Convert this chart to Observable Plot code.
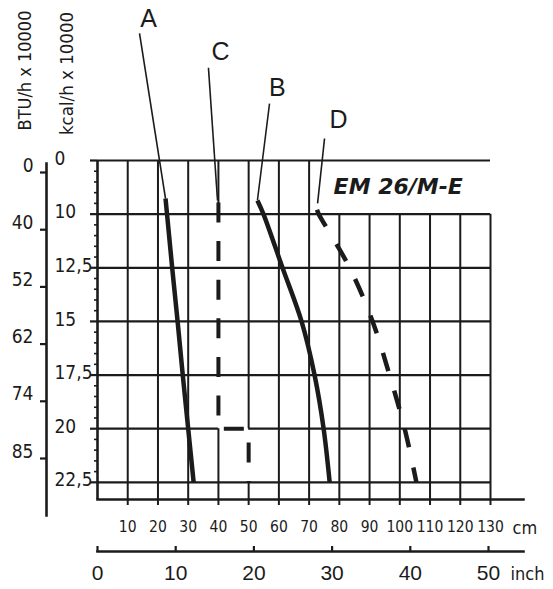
<!DOCTYPE html>
<html><head><meta charset="utf-8">
<script src="https://cdn.jsdelivr.net/npm/d3@7"></script>
<script src="https://cdn.jsdelivr.net/npm/@observablehq/plot@0.6"></script>
<style>
body{margin:0;background:#fff;}
#chart{position:relative;width:553px;height:589px;overflow:hidden;}
#chart svg{position:absolute;left:0;}
</style></head><body><div id="chart"></div>
<script>
// ---- axis values ----
const kcalTicks = [0, 10, 12.5, 15, 17.5, 20, 22.5];
const kcalLabels = ["0", "10", "12,5", "15", "17,5", "20", "22,5"];
const btuTicks = [0, 40, 52, 62, 74, 85];
const cmTicks = [10, 20, 30, 40, 50, 60, 70, 80, 90, 100, 110, 120, 130];
const inchTicks = [0, 10, 20, 30, 40, 50];

// ---- curves (cm, kcal/h x 10000) ----
const aCm   = [22.5, 23.0, 24.7, 26.5, 28.2, 30.0, 31.8];
const aKcal = [7.1, 10, 12.5, 15, 17.5, 20, 22.5];
const bCm   = [52.9, 54.9, 61.2, 67.5, 71.8, 74.8, 76.8];
const bKcal = [7.45, 10, 12.5, 15, 17.5, 20, 22.5];
const cCm   = [40, 40, 50, 50];
const cKcal = [7.83, 20, 20, 22.5];
const dCm   = [72.6, 73.2, 83.4, 91.0, 96.6, 101.6, 105.5];
const dKcal = [9.2, 10, 12.5, 15, 17.5, 20, 22.5];

// ---- annotations ----
const letters = [
  {t: "A", cm: 16.9, kcal: -26.3},
  {t: "C", cm: 40.7, kcal: -20.3},
  {t: "B", cm: 59.5, kcal: -13.6},
  {t: "D", cm: 79.7, kcal: -7.5}
];
const leaders = [
  {x1: 13.9, y1: -23.7, x2: 22.5, y2: 7.1},
  {x1: 36.7, y1: -17.3, x2: 39.7, y2: 7.45},
  {x1: 56.9, y1: -10.6, x2: 52.9, y2: 7.45},
  {x1: 75.1, y1: -4.1,  x2: 72.8, y2: 8.0}
];
const modelLabel = [{t: "EM 26/M-E", cm: 78.1, kcal: 5.0}];

// the kcal axis is drawn with equal spacing between its labelled values
const toRow = d3.scaleLinear().domain(kcalTicks).range(d3.range(kcalTicks.length));
const toBtuRow = d3.scaleLinear().domain(btuTicks).range(d3.range(btuTicks.length));
const bottomRow = 6.32; // frame runs a little below the 22,5 line

const series = (cm, kcal) => cm.map((c, i) => ({cm: c, kcal: kcal[i]}));
const A = series(aCm, aKcal), B = series(bCm, bKcal), C = series(cCm, cKcal), D = series(dCm, dKcal);

const FN = '"Liberation Sans Narrow", "DejaVu Sans Condensed", sans-serif';
const FR = '"Liberation Sans", Arial, sans-serif';
const INK = "#1b1b1b";

// grid segments (broken where the C path runs and behind the model label), in row units
const vLines = cmTicks.flatMap(c =>
  c === 40 ? [{x: c, y1: 0, y2: toRow(10)}, {x: c, y1: toRow(20), y2: bottomRow}] :
  c === 50 ? [{x: c, y1: 0, y2: toRow(20)}, {x: c, y1: toRow(22.5), y2: bottomRow}] :
  c >= 80 ? [{x: c, y1: toRow(10), y2: bottomRow}] :
  [{x: c, y1: 0, y2: bottomRow}]);
const hLines = kcalTicks.flatMap(k => k === 20
  ? [{y: k, x1: 0, x2: 40}, {y: k, x1: 50, x2: 130}]
  : [{y: k, x1: 0, x2: 130}]);
const minorRows = d3.range(kcalTicks.length - 1).flatMap(i => [1, 2, 3, 4].map(j => i + j / 5));

const main = Plot.plot({
  width: 553, height: 589,
  marginLeft: 97, marginRight: 30, marginTop: 160, marginBottom: 90,
  style: {background: "white", fontFamily: FN, color: INK},
  x: {domain: [0, 130], range: [97, 490], axis: null},
  y: {domain: [0, bottomRow], range: [160, 499], axis: null},
  marks: [
    Plot.ruleX(vLines, {x: "x", y1: "y1", y2: "y2", strokeWidth: 2, stroke: INK}),
    Plot.ruleY(hLines, {y: d => toRow(d.y), x1: "x1", x2: "x2", strokeWidth: 2.2, stroke: INK}),
    Plot.ruleX([0], {y1: 0, y2: bottomRow, strokeWidth: 2.6, stroke: INK}),
    Plot.frame({anchor: "bottom", strokeWidth: 2.6, stroke: INK}),
    Plot.axisY(kcalTicks.map(d => toRow(d)), {anchor: "left", tickSize: 7, fill: "none", strokeWidth: 2.2, stroke: INK, label: null}),
    Plot.axisY(minorRows, {anchor: "left", tickSize: 3, fill: "none", strokeWidth: 1.6, stroke: INK, label: null}),
    Plot.text(kcalTicks, {y: d => toRow(d), text: d => kcalLabels[kcalTicks.indexOf(d)], frameAnchor: "left", dx: -43, dy: -2, textAnchor: "start", lineAnchor: "middle", fontSize: 19, fontFamily: FN, fill: INK}),
    Plot.axisX(cmTicks, {anchor: "bottom", tickSize: 6, tickPadding: 15, strokeWidth: 2, fontSize: 15.5, fontFamily: FN, fill: INK, stroke: INK, label: null}),
    Plot.text(["cm"], {frameAnchor: "bottom-right", dx: -11, dy: 29, textAnchor: "start", lineAnchor: "middle", fontSize: 18, fontFamily: FN, fill: INK}),
    Plot.text(["BTU/h x 10000"], {frameAnchor: "top-left", dx: -72, dy: -90, rotate: -90, textAnchor: "middle", lineAnchor: "middle", fontSize: 18, fontFamily: FN, fill: INK}),
    Plot.text(["kcal/h x 10000"], {frameAnchor: "top-left", dx: -30, dy: -87, rotate: -90, textAnchor: "middle", lineAnchor: "middle", fontSize: 18.5, fontFamily: FN, fill: INK}),
    Plot.link(leaders, {x1: "x1", y1: d => toRow(d.y1), x2: "x2", y2: d => toRow(d.y2), strokeWidth: 1.6, stroke: INK}),
    Plot.text(letters, {x: "cm", y: d => toRow(d.kcal), text: "t", fontSize: 25, fontFamily: FR, fill: INK}),
    Plot.text(modelLabel, {x: "cm", y: d => toRow(d.kcal), text: "t", textAnchor: "start", fontSize: 22, fontWeight: "bold", fontStyle: "italic", fontFamily: '"DejaVu Sans", sans-serif', fill: INK}),
    Plot.line(A, {x: "cm", y: d => toRow(d.kcal), strokeWidth: 4.5, stroke: INK, strokeLinecap: "butt"}),
    Plot.line(B, {x: "cm", y: d => toRow(d.kcal), curve: "catmull-rom", strokeWidth: 4.5, stroke: INK, strokeLinecap: "butt"}),
    Plot.line(C, {x: "cm", y: d => toRow(d.kcal), strokeWidth: 4, stroke: INK, strokeDasharray: "20,18.6", strokeLinecap: "butt", strokeLinejoin: "miter"}),
    Plot.line(D, {x: "cm", y: d => toRow(d.kcal), curve: "catmull-rom", strokeWidth: 4.5, stroke: INK, strokeDasharray: "19,20.5", strokeLinecap: "butt"})
  ]
});
main.style.top = "0px";

const btu = Plot.plot({
  width: 60, height: 589,
  marginLeft: 46, marginRight: 14, marginTop: 163, marginBottom: 74,
  style: {background: "transparent", overflow: "visible", color: INK},
  y: {domain: [0, btuTicks.length - 1], range: [172, 458], axis: null},
  marks: [
    Plot.frame({anchor: "left", strokeWidth: 2.6, stroke: INK}),
    Plot.axisY(btuTicks.map(d => toBtuRow(d)), {anchor: "left", tickSize: 6, fill: "none", strokeWidth: 2.2, stroke: INK, label: null}),
    Plot.text(btuTicks, {y: d => toBtuRow(d), frameAnchor: "left", dx: -13, dy: -7, textAnchor: "end", lineAnchor: "middle", fontSize: 19, fontFamily: FN, fill: INK})
  ]
});
btu.style.top = "0px";

const inch = Plot.plot({
  width: 553, height: 49,
  marginLeft: 97, marginRight: 30, marginTop: 11, marginBottom: 38,
  style: {background: "transparent", overflow: "visible", color: INK},
  x: {domain: [0, 50], range: [97, 488], axis: null},
  marks: [
    Plot.frame({anchor: "top", strokeWidth: 2.6, stroke: INK}),
    Plot.axisX(inchTicks, {anchor: "top", tickSize: 6, fill: "none", strokeWidth: 2.2, stroke: INK, label: null}),
    Plot.axisX(inchTicks, {anchor: "bottom", tickSize: 0, tickPadding: 14, fontSize: 21, fontFamily: FR, fill: INK, label: null}),
    Plot.text(["inch"], {frameAnchor: "bottom-right", dx: -13, dy: 23, textAnchor: "start", lineAnchor: "middle", fontSize: 18, fontFamily: FN, fill: INK})
  ]
});
inch.style.top = "540px";

document.getElementById("chart").append(main, btu, inch);
</script></body></html>
